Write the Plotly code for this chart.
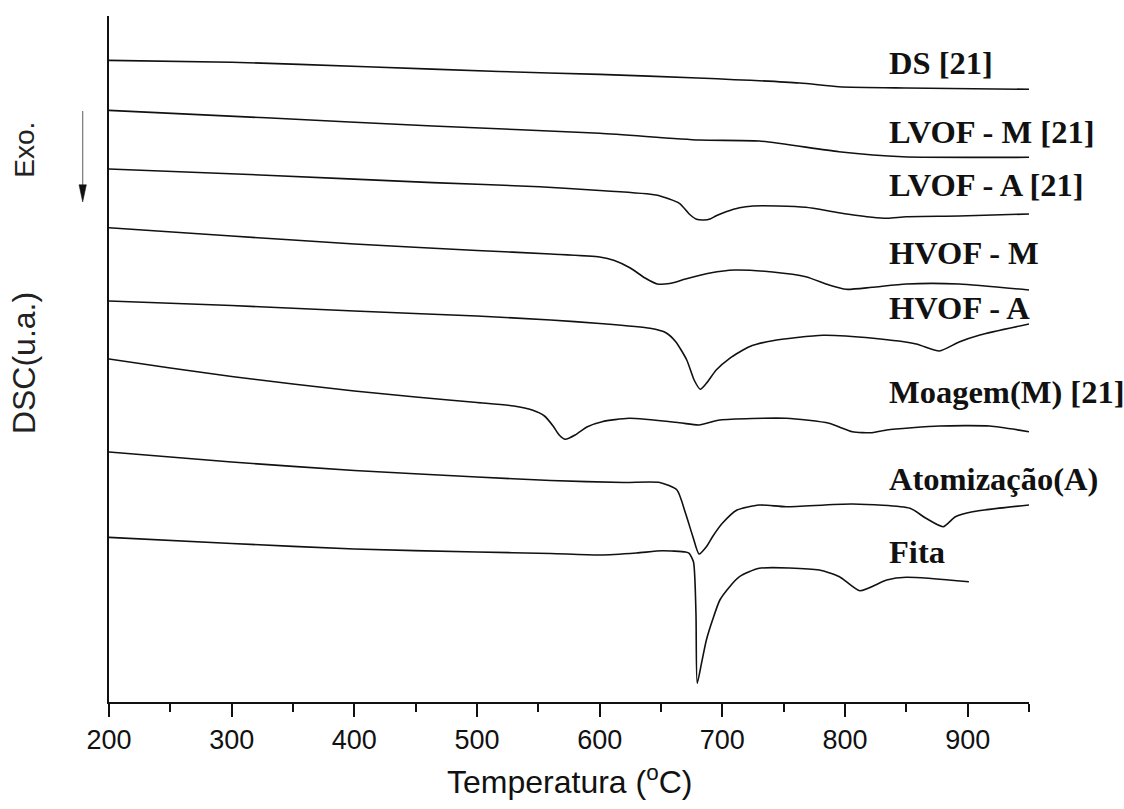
import plotly.graph_objects as go

# DSC traces, temperature (°C) vs stacked signal (arbitrary units, offset per sample)
ds_t = [200, 300, 410, 518, 600, 680, 763, 795, 850, 950]
ds_s = [641.6, 639.8, 635.3, 630.5, 627.6, 624, 619, 615.3, 614, 612.7]

lvof_m_t = [200, 328, 464, 600, 681, 730, 795, 847, 950]
lvof_m_s = [591.6, 584.2, 576, 568.7, 562, 561, 550.3, 545.3, 544.7]

lvof_a_t = [200, 328, 464, 551, 600, 646, 665, 673, 679, 685, 690, 695, 703, 714, 725, 745,
            768, 795, 822, 835, 850, 893, 950]
lvof_a_s = [533, 526.8, 519.4, 515.3, 511.5, 507, 498.7, 488, 482.7, 482, 483, 486.3, 490.3,
            494.3, 496, 496, 494.7, 489.3, 484.7, 483.7, 485.3, 486, 488]

hvof_m_t = [200, 300, 400, 500, 560, 600, 612, 625, 637, 647, 657, 670, 690, 710, 741, 768,
            787, 801, 822, 850, 893, 950]
hvof_m_s = [474.2, 466, 458, 451.5, 448, 445, 441.5, 434, 424, 418, 418.5, 423, 429, 432,
            430, 425.3, 417, 412.7, 414.7, 418, 418, 412]

hvof_a_t = [200, 300, 400, 500, 560, 600, 641, 654, 662, 671, 677, 682, 687, 695, 706, 722,
            741, 782, 823, 858, 877, 893, 910, 950]
hvof_a_s = [401, 396.5, 391, 386, 382, 378.5, 373.7, 369.3, 360.3, 342, 322, 312.7, 318.7,
            332, 343.7, 355.3, 361.3, 366.7, 363.7, 358, 351, 360, 367, 378]

moagem_t = [200, 250, 300, 350, 400, 450, 500, 530, 545, 555, 562, 567, 572, 580, 590, 602,
            624, 665, 681, 698, 752, 787, 806, 822, 834, 877, 918, 950]
moagem_s = [343, 334, 325.5, 318, 311, 305, 299.5, 296, 292, 286, 276, 267, 262.7, 267, 275.3,
            280.3, 283.7, 279.3, 277, 282, 283.7, 278.7, 270.3, 269.3, 272, 276, 276, 270.3]

atom_t = [200, 300, 400, 500, 560, 620, 649, 663, 670, 676, 681, 687, 692, 700, 712, 730,
          752, 806, 853, 866, 880, 890, 904, 950]
atom_s = [250, 240, 231.5, 225, 221.5, 219.5, 219.5, 212, 188.7, 165.3, 148, 155.3, 165.3,
          178.7, 192, 197, 195.3, 198, 193.7, 183.7, 175.3, 185.3, 190.3, 197]

fita_t = [200, 300, 400, 500, 560, 600, 630, 651, 670, 673, 676.5, 678.5, 679.5, 683, 687,
          692, 698, 706, 714, 730, 779, 795.5, 812, 834, 850, 901]
fita_s = [164.6, 158.5, 153, 150, 148.5, 147, 149, 151.3, 150, 148.7, 140, 89, 18.7, 38.7, 62,
          82, 102, 115.3, 125.3, 133.7, 132, 125.3, 111.3, 122, 124.7, 120.3]

# curve labels and the signal level at which each label sits
labels = ["DS [21]", "LVOF - M [21]", "LVOF - A [21]", "HVOF - M", "HVOF - A",
          "Moagem(M) [21]", "Atomização(A)", "Fita"]
label_levels = [638.7, 570.3, 517, 448.7, 393.7, 310.3, 223.5, 150.3]
label_temp = 834

series = [
    (ds_t, ds_s), (lvof_m_t, lvof_m_s), (lvof_a_t, lvof_a_s), (hvof_m_t, hvof_m_s),
    (hvof_a_t, hvof_a_s), (moagem_t, moagem_s), (atom_t, atom_s), (fita_t, fita_s),
]

fig = go.Figure()
for (t, s), name in zip(series, labels):
    fig.add_trace(go.Scatter(
        x=t, y=s, mode="lines", name=name,
        line=dict(color="#111111", width=1.6, shape="spline", smoothing=0.6),
        showlegend=False, hoverinfo="skip",
    ))

serif = "Times New Roman, Liberation Serif, serif"
sans = "Arial, Liberation Sans, sans-serif"

annotations = []
for name, lvl in zip(labels, label_levels):
    annotations.append(dict(
        x=label_temp, y=lvl, xref="x", yref="y", text=f"<b>{name}</b>",
        showarrow=False, xanchor="left", yanchor="middle",
        font=dict(family=serif, size=32.5, color="#111111"),
    ))

# vertical axis captions
annotations.append(dict(
    x=-0.0913, y=0.805, xref="paper", yref="paper", text="Exo.", textangle=-90,
    showarrow=False, xanchor="center", yanchor="middle",
    font=dict(family=sans, size=28, color="#222222"),
))
annotations.append(dict(
    x=-0.0924, y=0.494, xref="paper", yref="paper", text="DSC(u.a.)", textangle=-90,
    showarrow=False, xanchor="center", yanchor="middle",
    font=dict(family=sans, size=32, color="#222222"),
))
# horizontal axis caption
annotations.append(dict(
    x=0.5, y=-0.082, xref="paper", yref="paper", text="Temperatura (<sup>o</sup>C)",
    showarrow=False, xanchor="center", yanchor="top",
    font=dict(family=sans, size=32, color="#111111"),
))

# "Exo." direction arrow: grey shaft with a black head
ax = -0.0286
shapes = [
    dict(type="line", xref="paper", yref="paper", x0=ax, x1=ax, y0=0.8615, y1=0.750,
         line=dict(color="#777777", width=1.2)),
    dict(type="path", xref="paper", yref="paper",
         path=f"M {ax - 0.0040},0.7540 L {ax + 0.0040},0.7540 L {ax},0.7289 Z",
         fillcolor="#111111", line=dict(color="#111111", width=0.5)),
]

fig.update_layout(
    width=1124, height=809,
    margin=dict(l=109, r=95, t=16, b=107),
    paper_bgcolor="white", plot_bgcolor="white",
    annotations=annotations, shapes=shapes,
    xaxis=dict(
        range=[200, 950], tickvals=[200, 300, 400, 500, 600, 700, 800, 900],
        ticks="outside", ticklen=13, tickwidth=2, tickcolor="#111111",
        showline=True, linewidth=2, linecolor="#111111", showgrid=False, zeroline=False,
        tickfont=dict(family=sans, size=27, color="#111111"),
        minor=dict(dtick=50, tick0=200, ticks="outside", ticklen=8, tickwidth=2,
                   tickcolor="#111111", showgrid=False),
    ),
    yaxis=dict(
        range=[0, 686], showticklabels=False, ticks="", showgrid=False, zeroline=False,
        showline=True, linewidth=2, linecolor="#111111",
    ),
)

fig.write_html("out.html")
